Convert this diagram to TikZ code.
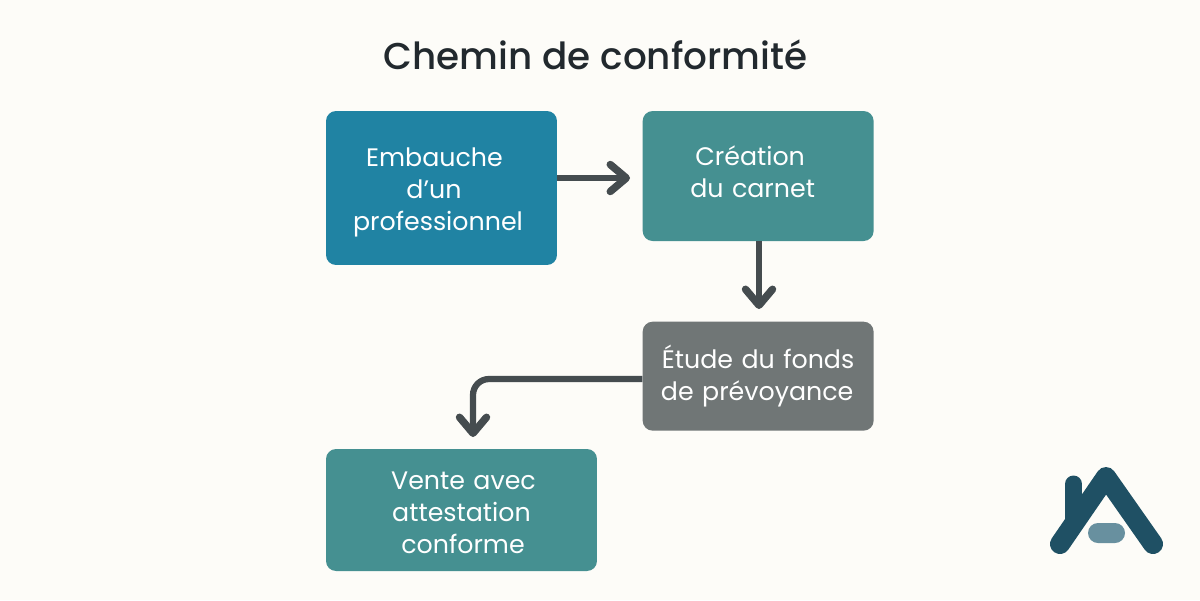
\documentclass[tikz,border=0pt]{standalone}
\usepackage{fontspec}
\setmainfont{Poppins}
\newfontfamily\titlefont{Poppins Medium}
\usepackage{tikz}
\usetikzlibrary{positioning, arrows.meta}
\definecolor{pagebg}{HTML}{FDFCF8}
\definecolor{bluebox}{HTML}{2083A3}
\definecolor{tealbox}{HTML}{459091}
\definecolor{greybox}{HTML}{707676}
\definecolor{arrowgrey}{HTML}{454C4F}
\definecolor{titleink}{HTML}{22292E}
\definecolor{logoblue}{HTML}{1F5064}
\definecolor{logopill}{HTML}{68909F}
\newcommand{\toleft}[2]{#2\hspace*{#1}\null}
\newcommand{\toright}[2]{\leavevmode\hspace*{#1}#2}
\newcommand{\lifted}[1]{\rule[-#1]{0pt}{#1}}
\tikzset{>={Straight Barb[length=3.2mm,width=5.4mm,line width=1.5mm,round]}}
\tikzset{
    stepbox/.style={rounded corners=0.2cm,inner sep=0pt,text=white,align=center,
        text width=4.4cm,font=\fontsize{14.4}{18.2}\selectfont},
    flow/.style={->,draw=arrowgrey,line width=1.25mm},
    logostroke/.style={draw=logoblue,line width=4mm,line cap=round,line join=round},
}
\begin{document}
\begin{tikzpicture}[x=0.02cm,y=-0.02cm]
    \path[use as bounding box,fill=pagebg] (0,0) rectangle (1200,600);
    \node[text=titleink,font=\titlefont\fontsize{21.25}{26}\selectfont] (title) at (595.5,55) {Chemin de conformité};
    \node[stepbox,fill=bluebox,minimum width=4.62cm,minimum height=3.08cm] (embauche) at (441.5,188)
        {\rule{0pt}{15.2pt}\toleft{0.28cm}{Embauche}\\\toleft{0.3cm}{d’un}\\\toleft{0.14cm}{professionnel}};
    \node[stepbox,fill=tealbox,minimum width=4.62cm,minimum height=2.6cm] (creation)
        [right=1.7cm of embauche.north east,anchor=north west] {\toleft{0.32cm}{Création}\\\toleft{0.22cm}{du carnet}\lifted{0.16cm}};
    \node[stepbox,fill=greybox,minimum width=4.62cm,minimum height=2.18cm] (etude)
        [below=1.6cm of creation] {Étude du fonds\\\toleft{0.04cm}{de prévoyance}};
    \node[stepbox,fill=tealbox,minimum width=5.42cm,minimum height=2.44cm] (vente) at (461.5,510)
        {\rule{0pt}{12.9pt}\toright{0.08cm}{Vente avec}\\attestation\\\toright{0.06cm}{conforme}};
    \coordinate (etudetop) at (759,309);
    \coordinate (ventetop) at (473,437);
    \path[flow] (embauche.east |- 0,178) -- (630,178);
    \path[flow] (creation.south -| etudetop) -- (etudetop);
    \draw[flow,rounded corners=0.32cm] (etude.west |- 0,379) -| (ventetop);
    % logo
    \draw[logostroke,line width=3.4mm] (1073.5,484) -- (1073.5,522);
    \draw[logostroke] (1060,544) -- (1106,477) -- (1153,544);
    \draw[fill=logopill,draw=none,rounded corners=0.2cm] (1088,523) rectangle (1125,543);
\end{tikzpicture}
\end{document}
